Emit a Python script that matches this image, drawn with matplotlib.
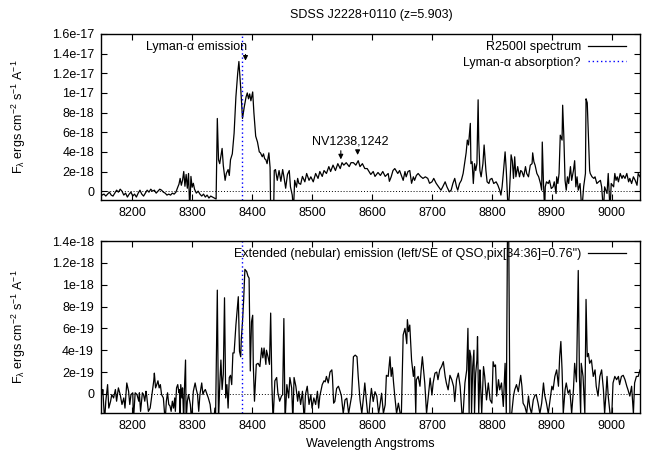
import matplotlib
matplotlib.use('Agg')
import matplotlib.pyplot as plt
import numpy as np

plt.rcParams['font.family'] = ['Liberation Sans', 'DejaVu Sans']
plt.rcParams['font.size'] = 9
plt.rcParams['mathtext.fontset'] = 'custom'
plt.rcParams['mathtext.rm'] = 'Liberation Sans'
plt.rcParams['mathtext.it'] = 'Liberation Sans'

title = 'SDSS J2228+0110 (z=5.903)'
lya_abs = 8384.0   # wavelength of the possible Lyman-alpha absorption
nv_lines = [8548.0, 8576.0]

# R2500I spectrum: (wavelength A, flux in 1e-18 ergs/cm2/s/A)
spec_r2500 = [
    (8147, -0.2), (8150, -0.4), (8153, -0.3), (8156, -0.5), (8159, -0.3), (8162, -0.1),
    (8165, -0.4), (8168, -0.5), (8171, -0.2), (8174, 0.1), (8177, -0.1), (8180, 0.2),
    (8183, 0.0), (8186, -0.4), (8189, -0.2), (8192, -0.6), (8195, -0.3), (8198, -0.1),
    (8201, -0.5), (8204, -0.3), (8207, -0.6), (8210, -0.2), (8213, 0.1), (8216, -0.3),
    (8219, -0.5), (8222, -0.2), (8225, 0.1), (8228, -0.1), (8231, 0.2), (8234, 0.0),
    (8237, 0.1), (8240, -0.2), (8243, 0.0), (8246, 0.2), (8249, 0.1), (8252, -0.1),
    (8255, -0.2), (8258, -0.4), (8261, -0.3), (8264, -0.4), (8267, -0.2), (8270, -0.3),
    (8273, -0.1), (8276, 0.4), (8278, 0.7), (8280, 1.3), (8282, 0.6), (8284, 1.1),
    (8286, 2.0), (8288, 0.5), (8290, 1.7), (8292, 0.3), (8294, 1.8), (8296, -2.0),
    (8298, 1.5), (8300, 0.4), (8302, 0.8), (8304, 0.2), (8307, -0.2), (8310, 0.0),
    (8313, -0.3), (8316, -0.5), (8319, -0.3), (8322, -0.6), (8325, -0.4), (8328, -0.7),
    (8331, -0.5), (8334, -0.6), (8337, -0.7), (8340, -0.8), (8342, 7.4), (8344, 3.2),
    (8346, 2.8), (8348, 3.6), (8350, 4.35), (8352, 2.6), (8355, 1.1), (8357, 1.8),
    (8360, 2.2), (8362, 1.6), (8364, 3.2), (8367, 3.8), (8370, 5.9), (8373, 9.6),
    (8376, 12.0), (8378, 13.2), (8381, 10.5), (8384, 7.4), (8387, 8.6), (8390, 9.6),
    (8392, 10.0), (8394, 9.4), (8396, 9.9), (8398, 9.2), (8401, 10.1), (8403, 8.0),
    (8406, 5.6), (8409, 5.0), (8412, 4.0), (8414, 3.9), (8417, 3.5), (8419, 3.8),
    (8421, 3.3), (8423, 3.2), (8425, 2.8), (8427, 3.5), (8428, 3.9), (8430, 2.4),
    (8431, -2.0), (8434, -2.0), (8436, -2.0), (8437, 2.1), (8439, 2.2), (8442, 1.1),
    (8445, 2.1), (8448, 1.0), (8451, 2.2), (8453, 1.5), (8456, 0.3), (8459, 1.7),
    (8462, 2.1), (8464, 0.44), (8467, -0.4), (8469, -2.0), (8471, 1.1), (8474, 0.4),
    (8476, 1.3), (8478, 0.8), (8481, 0.7), (8484, 1.5), (8488, 0.95), (8491, 1.8),
    (8495, 1.1), (8498, 1.46), (8502, 0.95), (8506, 1.8), (8510, 1.3), (8513, 2.0),
    (8517, 1.5), (8520, 2.1), (8524, 1.8), (8528, 2.5), (8531, 2.0), (8535, 2.65),
    (8539, 2.1), (8543, 2.8), (8547, 2.3), (8550, 2.9), (8553, 2.65), (8557, 2.9),
    (8562, 2.5), (8565, 2.9), (8569, 2.9), (8573, 2.65), (8577, 3.1), (8580, 2.5),
    (8584, 2.8), (8588, 2.3), (8592, 2.3), (8595, 2.0), (8598, 1.7), (8602, 2.0),
    (8605, 1.5), (8610, 1.9), (8614, 1.6), (8618, 2.0), (8622, 1.5), (8627, 1.8),
    (8629, 1.0), (8632, 1.46), (8635, 2.1), (8638, 2.3), (8641, 2.0), (8643, 1.8),
    (8646, 2.1), (8649, 1.6), (8652, 1.1), (8655, 2.0), (8657, 1.46), (8660, 2.0),
    (8663, 2.1), (8666, 0.8), (8669, 1.46), (8671, 1.1), (8674, 1.6), (8677, 1.8),
    (8681, 1.5), (8685, 1.3), (8689, 1.46), (8693, 1.3), (8696, 0.8), (8700, 0.95),
    (8703, 1.3), (8707, 0.8), (8711, 0.44), (8715, 0.1), (8718, 0.44), (8722, 0.95),
    (8725, 0.44), (8729, -0.07), (8732, 0.1), (8735, 0.8), (8738, 1.3), (8741, 0.44),
    (8743, 0.1), (8746, 0.78), (8749, 1.1), (8752, 1.8), (8755, 3.1), (8757, 3.9),
    (8759, 5.2), (8761, 4.7), (8764, 6.9), (8765, 2.8), (8767, 3.0), (8769, 0.78),
    (8771, 2.8), (8773, 2.1), (8775, 2.8), (8777, 9.3), (8778, 5.2), (8780, 2.1),
    (8782, 1.46), (8785, 2.8), (8787, 4.7), (8790, 2.1), (8792, 0.95), (8795, 0.78),
    (8797, 1.2), (8800, 1.3), (8803, 0.78), (8807, 0.95), (8810, 0.6), (8813, 0.1),
    (8815, -0.4), (8817, 0.44), (8819, 1.8), (8822, 4.0), (8824, 2.1), (8826, -0.58),
    (8827, -2.0), (8829, -0.4), (8831, 2.1), (8832, 3.7), (8834, 3.1), (8836, 1.3),
    (8838, 3.5), (8840, 1.46), (8843, 2.5), (8846, 1.46), (8848, 2.1), (8850, 2.0),
    (8853, 1.46), (8856, 2.5), (8858, 1.8), (8861, 1.46), (8864, 2.65), (8867, 2.8),
    (8868, 3.9), (8870, 3.0), (8872, 2.65), (8875, 1.8), (8878, 1.46), (8881, 0.78),
    (8883, 0.1), (8884, 5.0), (8886, 0.78), (8888, -2.0), (8889, 0.44), (8891, 0.95),
    (8894, 0.78), (8896, 1.1), (8899, 0.27), (8902, 0.44), (8904, 0.95), (8907, -0.24),
    (8908, 1.46), (8910, 0.78), (8912, 1.8), (8914, 5.7), (8917, 5.2), (8918, 8.75),
    (8920, 5.5), (8922, 1.1), (8924, 0.1), (8926, 1.46), (8928, 0.78), (8931, 2.5),
    (8933, 1.1), (8936, 2.1), (8938, 3.1), (8940, 0.44), (8942, 1.46), (8944, 0.1),
    (8947, 0.78), (8950, -2.0), (8953, 0.44), (8956, 1.8), (8957, 9.4), (8959, 9.0),
    (8961, 5.5), (8963, 2.1), (8964, 1.8), (8967, 1.46), (8970, 1.3), (8972, 1.46),
    (8975, 0.78), (8978, 0.95), (8981, 1.1), (8983, 0.44), (8986, -2.0), (8988, 0.44),
    (8990, 0.1), (8992, -0.24), (8994, 1.8), (8997, -2.0), (8999, 0.78), (9003, 0.44),
    (9005, 1.8), (9007, 1.1), (9009, 1.46), (9011, 0.95), (9014, 1.8), (9017, 1.3),
    (9019, 1.6), (9022, 1.3), (9025, 1.8), (9028, 0.95), (9030, 1.3), (9033, 0.78),
    (9036, 1.46), (9039, 1.1), (9042, 0.6), (9044, 1.8), (9047, 1.46),
]

# extended emission, pix[34:36]: (wavelength A, flux in 1e-19 ergs/cm2/s/A)
spec_neb = [
    (8147, 0.55), (8150, -0.06), (8151, 0.4), (8154, -2.5), (8156, -0.67), (8159, 0.85),
    (8161, -1.3), (8164, -0.67), (8166, -0.06), (8169, -0.37), (8172, 0.4), (8174, -0.67),
    (8177, 0.55), (8180, -0.06), (8183, -0.97), (8186, -0.37), (8188, -1.3), (8191, 1.0),
    (8194, 0.24), (8196, -0.97), (8198, -0.06), (8201, 0.1), (8202, -2.5), (8205, 0.1),
    (8208, -0.06), (8211, -0.67), (8212, 0.1), (8214, -1.6), (8217, 0.1), (8219, -0.06),
    (8221, -0.67), (8223, 0.24), (8224, -0.06), (8227, -1.6), (8230, -1.3), (8233, -0.06),
    (8236, 1.2), (8237, 1.9), (8239, 0.55), (8241, 0.85), (8243, 1.2), (8245, 0.55),
    (8247, 0.85), (8249, -0.06), (8252, -0.37), (8255, -2.5), (8257, -0.67), (8259, 0.1),
    (8261, -0.97), (8263, -1.1), (8265, -1.6), (8267, -0.67), (8269, -1.3), (8271, -0.37),
    (8272, -1.6), (8274, 0.55), (8276, 0.85), (8278, 0.1), (8279, 0.4), (8280, -2.5),
    (8281, 0.85), (8283, -0.37), (8284, 0.55), (8286, -2.5), (8287, 0.24), (8289, 3.1),
    (8290, -2.5), (8292, -0.67), (8294, -0.06), (8297, -0.97), (8299, -2.5), (8302, 0.24),
    (8305, 1.0), (8307, 0.4), (8309, -0.06), (8311, -1.6), (8313, -0.06), (8316, 1.0),
    (8318, -0.06), (8320, 0.24), (8322, 0.4), (8324, 0.1), (8327, -0.37), (8330, -0.97),
    (8333, -2.5), (8336, -2.5), (8338, -1.3), (8339, -2.5), (8342, 9.5), (8344, -2.5),
    (8346, 0.75), (8348, 3.1), (8350, 0.4), (8352, 1.8), (8354, 8.8), (8356, -0.37),
    (8358, 0.85), (8360, -1.3), (8362, 1.5), (8364, 1.7), (8366, 0.85), (8368, 3.75),
    (8370, 3.75), (8373, 6.3), (8377, 8.9), (8379, 3.9), (8381, 3.4), (8382, 5.0),
    (8384, 6.6), (8386, 8.7), (8388, 11.4), (8391, 11.2), (8393, 10.8), (8395, 10.6),
    (8397, 2.1), (8399, 6.6), (8401, 7.2), (8402, 2.7), (8404, -0.67), (8407, 2.7),
    (8410, 2.8), (8413, 2.5), (8416, 4.2), (8418, 3.3), (8420, 4.2), (8423, 2.7),
    (8424, 4.0), (8427, 3.3), (8429, 2.7), (8431, 7.4), (8433, 0.85), (8435, -2.5),
    (8438, 1.2), (8441, 1.5), (8443, 0.1), (8446, -0.67), (8449, -0.2), (8451, -0.06),
    (8453, 6.9), (8455, -2.5), (8458, 0.85), (8461, -0.37), (8463, 1.5), (8466, 0.55),
    (8468, -2.5), (8470, 1.5), (8473, 0.7), (8476, -0.67), (8478, 0.24), (8481, -0.97),
    (8484, 0.24), (8487, -2.5), (8489, -0.06), (8492, 0.7), (8495, -0.97), (8498, -0.06),
    (8500, -1.3), (8503, -0.37), (8506, -0.97), (8509, 0.24), (8511, -1.3), (8513, -0.2),
    (8517, 0.85), (8520, 1.2), (8522, 1.1), (8524, 1.6), (8527, 1.0), (8530, 2.0),
    (8533, 2.2), (8534, 1.6), (8536, -0.85), (8538, -0.7), (8541, 0.5), (8544, 0.7),
    (8547, 0.2), (8549, -0.2), (8552, -1.8), (8555, -0.55), (8558, -0.4), (8561, -1.8),
    (8563, -1.15), (8566, -0.2), (8569, 3.4), (8572, 3.55), (8575, 3.4), (8577, 1.6),
    (8580, -0.55), (8583, -1.8), (8586, -0.2), (8588, 1.0), (8591, -0.85), (8594, -2.5),
    (8597, -0.55), (8599, 0.5), (8602, -0.7), (8605, 0.2), (8608, -0.2), (8611, -1.8),
    (8613, -1.15), (8616, 0.06), (8619, -1.8), (8622, -1.0), (8624, 1.7), (8627, 1.6),
    (8630, 3.4), (8632, 1.6), (8634, 2.4), (8636, 1.0), (8638, -0.2), (8641, -1.8),
    (8644, -0.85), (8647, -1.8), (8649, -1.8), (8652, 5.4), (8655, 6.0), (8658, 4.6),
    (8659, 6.8), (8661, 5.7), (8663, 6.3), (8666, 3.1), (8669, 1.6), (8671, 2.5),
    (8673, -1.8), (8674, 1.3), (8677, 1.6), (8680, 0.7), (8682, 2.2), (8684, 3.4),
    (8686, 2.2), (8688, 1.0), (8691, -1.8), (8694, -0.2), (8697, 1.45), (8700, -0.1),
    (8702, 1.0), (8705, 1.9), (8708, 2.0), (8710, 1.3), (8713, 2.2), (8716, 2.5),
    (8719, 2.95), (8722, 1.6), (8724, 1.0), (8727, 0.37), (8730, 1.7), (8733, 1.3),
    (8736, 0.7), (8738, -0.7), (8741, 1.3), (8744, 1.9), (8747, 0.7), (8750, -1.8),
    (8752, -1.8), (8755, 1.0), (8758, 2.2), (8760, 6.0), (8762, -1.8), (8763, 4.0),
    (8765, 3.4), (8766, -1.8), (8768, 2.5), (8770, 4.0), (8771, -1.8), (8773, 1.9),
    (8775, 3.1), (8776, 5.25), (8778, -1.8), (8780, 2.2), (8781, 1.0), (8783, -1.8),
    (8786, 2.5), (8788, 1.6), (8791, -0.55), (8794, 1.0), (8797, -0.55), (8800, -0.85),
    (8802, 2.95), (8804, 2.5), (8806, 2.65), (8808, -0.2), (8811, 1.3), (8813, 0.37),
    (8816, 1.0), (8819, -1.15), (8822, 2.8), (8824, -1.8), (8826, 15.0), (8828, 15.0),
    (8830, -1.8), (8833, -1.8), (8836, -0.2), (8838, 0.37), (8841, 0.85), (8844, 0.2),
    (8847, 1.3), (8848, 1.7), (8850, 0.7), (8852, -0.85), (8855, -1.15), (8858, -1.8),
    (8861, -0.2), (8863, -1.15), (8866, -1.8), (8869, -0.55), (8872, -0.1), (8874, -0.1),
    (8877, -0.85), (8880, -1.8), (8883, -0.85), (8886, 1.0), (8888, -0.1), (8891, -0.85),
    (8894, -1.8), (8897, -0.55), (8900, 0.7), (8902, 0.37), (8905, 1.6), (8908, 2.2),
    (8911, 0.7), (8913, 3.4), (8915, 4.8), (8917, 2.2), (8919, -1.8), (8922, 0.37),
    (8924, 1.0), (8927, 0.06), (8930, 0.37), (8933, -1.8), (8936, 0.37), (8938, 2.8),
    (8941, 1.1), (8944, 11.3), (8946, 1.6), (8948, -1.8), (8949, 2.8), (8952, 1.6),
    (8955, -1.8), (8957, 8.65), (8959, 3.4), (8961, 3.7), (8963, 2.8), (8966, 3.1),
    (8969, 1.6), (8972, 2.2), (8974, 0.7), (8977, -0.2), (8980, 1.6), (8983, 2.2),
    (8986, 0.37), (8988, -1.8), (8990, -0.2), (8992, 1.6), (8994, -0.2), (8997, -1.8),
    (9000, -1.8), (9002, 1.0), (9005, 1.6), (9008, 1.3), (9011, 1.6), (9013, 0.85),
    (9016, 1.6), (9019, 1.7), (9022, 1.3), (9025, 0.7), (9027, 0.37), (9030, -0.2),
    (9033, 0.7), (9036, -1.8), (9038, 1.0), (9041, 1.6), (9044, 1.6), (9047, 2.2),
]

top_ticks = [0, 2e-18, 4e-18, 6e-18, 8e-18, 1e-17, 1.2e-17, 1.4e-17, 1.6e-17]
top_ticklabels = ['0', '2e-18', '4e-18', '6e-18', '8e-18', '1e-17', '1.2e-17', '1.4e-17', '1.6e-17']
bot_ticks = [0, 2e-19, 4e-19, 6e-19, 8e-19, 1e-18, 1.2e-18, 1.4e-18]
bot_ticklabels = ['0', '2e-19', '4e-19', '6e-19', '8e-19', '1e-18', '1.2e-18', '1.4e-18']
xticks = [8200, 8300, 8400, 8500, 8600, 8700, 8800, 8900, 9000]

w1, f1 = np.array(spec_r2500).T
f1 = f1 * 1e-18
w2, f2 = np.array(spec_neb).T
f2 = f2 * 1e-19

ylab = r'F$_\lambda$ ergs cm$^{-2}$ s$^{-1}$ A$^{-1}$'

fig = plt.figure(figsize=(6.45, 4.53), dpi=100)
ax1 = fig.add_axes([101/645, 1-200/453, 539/645, 166/453])
ax2 = fig.add_axes([101/645, 1-413/453, 539/645, 172/453])

for ax in (ax1, ax2):
    ax.set_xlim(8148, 9047)
    ax.set_xticks(xticks)
    ax.tick_params(direction='in', top=True, right=True, length=4, width=0.8, pad=5)
    ax.axhline(0, color='black', linestyle=(0, (1, 2)), lw=0.7)
    for s in ax.spines.values():
        s.set_linewidth(1.0)

ax1.plot(w1, f1, color='black', lw=0.9, label='R2500I spectrum')
ax1.axvline(lya_abs, color='blue', linestyle=(0, (1, 2)), lw=1.0, label='Lyman-\u03b1 absorption?')
ax1.set_ylim(-9e-19, 1.6e-17)
ax1.set_yticks(top_ticks)
ax1.set_yticklabels(top_ticklabels)
ax1.set_ylabel(ylab)
ax1.yaxis.set_label_coords(-0.135, 0.5)
ax1.legend(loc='upper right', bbox_to_anchor=(0.974, 0.955), frameon=False, markerfirst=False,
           handlelength=3.0, handletextpad=0.6, labelspacing=0.25, borderpad=0, borderaxespad=0)

ax1.annotate('', xy=(8389, 13.0e-18), xytext=(8389, 14.2e-18),
             arrowprops=dict(arrowstyle='-|>', color='black', lw=0.8, mutation_scale=7))
ax1.text(8307, 14.7e-18, 'Lyman-\u03b1 emission', ha='center', va='center')
for w, y0, y1 in zip(nv_lines, [4.4e-18, 4.4e-18], [2.95e-18, 3.4e-18]):
    ax1.annotate('', xy=(w, y1), xytext=(w, y0),
                 arrowprops=dict(arrowstyle='-|>', color='black', lw=0.8, mutation_scale=7))
ax1.text(8563, 5.1e-18, 'NV1238,1242', ha='center', va='center')

ax2.plot(w2, f2, color='black', lw=0.9,
         label='Extended (nebular) emission (left/SE of QSO,pix[34:36]=0.76")')
ax2.axvline(lya_abs, color='blue', linestyle=(0, (1, 2)), lw=1.0)
ax2.set_ylim(-1.75e-19, 1.4e-18)
ax2.set_yticks(bot_ticks)
ax2.set_yticklabels(bot_ticklabels)
ax2.set_ylabel(ylab)
ax2.yaxis.set_label_coords(-0.135, 0.5)
ax2.set_xlabel('Wavelength Angstroms')
ax2.legend(loc='upper right', bbox_to_anchor=(0.974, 0.96), frameon=False, markerfirst=False,
           handlelength=3.0, handletextpad=0.6, borderpad=0, borderaxespad=0)

fig.text(371/645, 1-15/453, title, ha='center', va='center')

fig.savefig('out.png', dpi=100)
